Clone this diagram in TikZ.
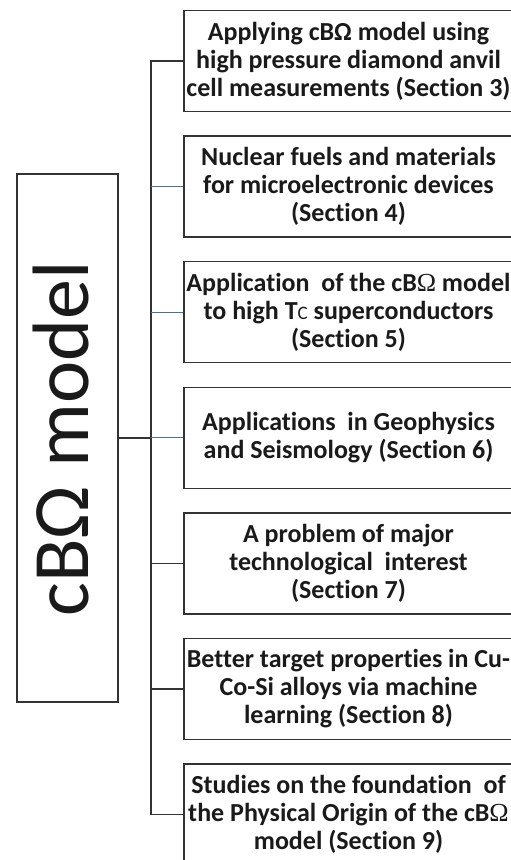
\documentclass[tikz,border=0pt]{standalone}
\usepackage{fontspec}
\setmainfont{Carlito}[Ligatures=CommonOff]
\newfontfamily\omfont{Liberation Serif}
\definecolor{linec}{HTML}{333333}
\definecolor{bluec}{HTML}{4F6F8F}
\definecolor{txt}{HTML}{1A1A1A}
\begin{document}
\begin{tikzpicture}[x=1pt,y=-1pt,
  topic/.style={draw=linec, line width=1.4pt, minimum width=329pt, minimum height=101pt,
    inner sep=0pt, align=center, text=txt,
    font=\fontsize{26}{28}\selectfont\bfseries},
  mainbox/.style={draw=linec, line width=1.4pt, minimum width=101pt, minimum height=528pt, inner sep=0pt},
  conn/.style={draw=linec, line width=1.4pt},
  bconn/.style={draw=bluec, line width=1.2pt}]
\useasboundingbox (0,0) rectangle (511,860);
\clip (0,0) rectangle (511,860);
\fill[white] (0,0) rectangle (511,860);
\node[mainbox] (main) at (67.5,438) {};
\node[rotate=90, text=txt, inner sep=0pt, font=\fontsize{80}{80}\selectfont] (title) at (60.5,439) {cBΩ model};
\node[topic] (b1) at (348.5,61) {Applying cBΩ model using\\high pressure diamond anvil\\cell measurements (Section 3)};
\node[topic] (b2) at (348.5,186.6) {Nuclear fuels and materials\\for microelectronic devices\\(Section 4)};
\node[topic] (b3) at (348.5,312.2) {Application\ \ of the cB{\omfont\mdseries Ω} model\\to high T{\mdseries\fontsize{19}{19}\selectfont C} superconductors\\(Section 5)};
\node[topic] (b4) at (348.5,437.8) {Applications\ \ in Geophysics\\and Seismology (Section 6)};
\node[topic] (b5) at (348.5,563.4) {A problem of major\\technological\ \ interest\\(Section 7)};
\node[topic] (b6) at (348.5,689) {Better target properties in Cu-\\Co-Si alloys via machine\\learning (Section 8)};
\node[topic] (b7) at (348.5,814.6) {Studies on the foundation\ \ of\\the Physical Origin of the cB{\omfont\mdseries Ω}\\model (Section 9)};
\coordinate (sp) at (151,0);
\draw[conn] (b1.west) -- (b1.west -| sp) -- (b7.west -| sp) -- (b7.west);
\draw[bconn] (b2.west) -- (b2.west -| sp);
\draw[bconn] (b3.west) -- (b3.west -| sp);
\draw[bconn] (b4.west) -- (b4.west -| sp);
\draw[conn] (b5.west) -- (b5.west -| sp);
\draw[conn] (b6.west) -- (b6.west -| sp);
\draw[conn] (main.east) -- (main.east -| sp);
\end{tikzpicture}
\end{document}
